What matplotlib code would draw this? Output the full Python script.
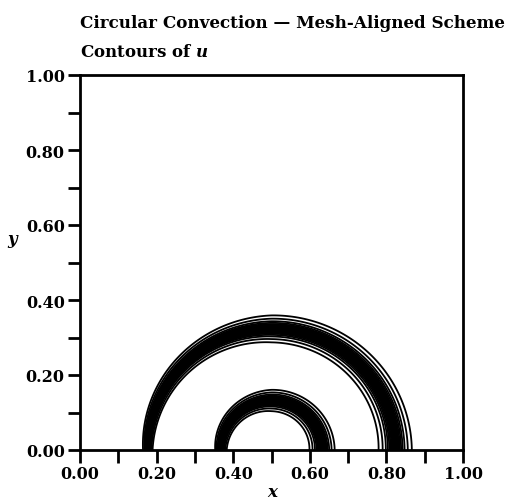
import numpy as np
import matplotlib
matplotlib.use('Agg')
import matplotlib.pyplot as plt

# Circular convection about (0.5, 0): two bands of u carried round from the
# inflow (left, theta = pi) to the outflow (right, theta = 0)
center_x = 0.5
band_radius = [0.132, 0.323]          # mid radius of the inner and outer front
band_angle = [0.0, np.pi / 2, np.pi]   # outflow, top, inflow
inner_width = [0.066, 0.057, 0.030]    # front thickness of the inner edge
outer_width = [0.087, 0.072, 0.025]    # front thickness of the outer edge
levels = [0.02, 0.05, 0.1, 0.15, 0.2, 0.25, 0.3, 0.35, 0.4, 0.45, 0.5,
          0.55, 0.6, 0.65, 0.7, 0.75, 0.8, 0.85, 0.9, 0.95, 0.98]

x_ticks = [0.0, 0.2, 0.4, 0.6, 0.8, 1.0]
y_ticks = [0.0, 0.2, 0.4, 0.6, 0.8, 1.0]

plt.rcParams['font.family'] = ['DejaVu Serif']
plt.rcParams['font.weight'] = 'bold'
plt.rcParams['mathtext.fontset'] = 'dejavuserif'

fig = plt.figure(figsize=(5.11, 5.02), dpi=100)
ax = fig.add_axes([80 / 511, 51 / 502, 383 / 511, 375 / 502])

xg = np.linspace(0, 1, 1400)
yg = np.linspace(0, 0.45, 700)
X, Y = np.meshgrid(xg, yg)
R = np.hypot(X - center_x, Y)
T = np.arctan2(Y, X - center_x)
w_in = np.interp(T, band_angle, inner_width) / 3.9
w_out = np.interp(T, band_angle, outer_width) / 3.9
U = 0.5 * (np.tanh((R - band_radius[0]) / w_in) - np.tanh((R - band_radius[1]) / w_out))

ax.contour(X, Y, U, levels=levels, colors='black', linewidths=1.3)

ax.set_xlim(0, 1)
ax.set_ylim(0, 1)
ax.set_xticks(x_ticks)
ax.set_yticks(y_ticks)
ax.set_xticks(np.arange(0.1, 1.0, 0.2), minor=True)
ax.set_yticks(np.arange(0.1, 1.0, 0.2), minor=True)
ax.set_xticklabels(['%.2f' % v for v in x_ticks])
ax.set_yticklabels(['%.2f' % v for v in y_ticks])
ax.tick_params(which='both', direction='out', length=9, width=2.0,
               labelsize=11.5, pad=2)
for s in ax.spines.values():
    s.set_linewidth(2.0)

fig.text(80 / 511, 1 - 28 / 502, 'Circular Convection \u2014 Mesh-Aligned Scheme',
         fontsize=12.1, fontweight='bold', ha='left', va='baseline')
fig.text(80 / 511, 1 - 57 / 502, 'Contours of $\\boldsymbol{u}$',
         fontsize=12, fontweight='bold', ha='left', va='baseline')
fig.text(272 / 511, 1 - 497 / 502, 'x', fontsize=12, fontweight='bold',
         style='italic', ha='center', va='baseline')
fig.text(12 / 511, 1 - 244 / 502, 'y', fontsize=12, fontweight='bold',
         style='italic', ha='center', va='baseline')

fig.savefig('out.png', dpi=100)
